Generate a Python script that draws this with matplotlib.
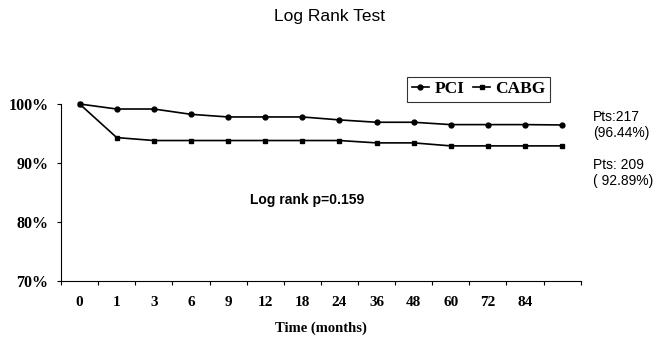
import matplotlib.pyplot as plt
from matplotlib.ticker import FixedLocator

# Kaplan-Meier style survival (%) by follow-up month
months = ['0', '1', '3', '6', '9', '12', '18', '24', '36', '48', '60', '72', '84', '']
pci = [100, 99.15, 99.15, 98.25, 97.8, 97.8, 97.8, 97.3, 96.9, 96.9, 96.5, 96.5, 96.5, 96.44]
cabg = [100, 94.3, 93.8, 93.8, 93.8, 93.8, 93.8, 93.8, 93.4, 93.4, 92.89, 92.89, 92.89, 92.89]
y_ticks = [70, 80, 90, 100]

serif = 'Liberation Serif'
sans = 'Liberation Sans'

fig = plt.figure(figsize=(6.67, 3.37), dpi=100)
ax = fig.add_axes([0.0915, 0.167, 0.7791, 0.5244])

x = list(range(len(months)))
ax.plot(x, pci, color='black', lw=1.2, marker='o', ms=3.5, label='PCI', clip_on=False)
ax.plot(x, cabg, color='black', lw=1.2, marker='s', ms=3.5, label='CABG', clip_on=False)

ax.set_xlim(-0.5, len(months) - 0.5)
ax.set_ylim(70, 100)

# labels at category centres, tick marks at category boundaries
ax.set_xticks(x)
ax.set_xticklabels(months, fontfamily=serif, fontweight='bold', fontsize=11)
ax.xaxis.set_minor_locator(FixedLocator([i - 0.5 for i in range(len(months) + 1)]))
ax.tick_params(axis='x', which='major', length=0, pad=11)
ax.tick_params(axis='x', which='minor', length=3, width=0.8, direction='out')

ax.set_yticks(y_ticks)
ax.set_yticklabels([f'{v}%' for v in y_ticks], fontfamily=serif, fontweight='bold', fontsize=11.5)
ax.tick_params(axis='y', length=3, width=0.8, pad=6)

for s in ['top', 'right']:
    ax.spines[s].set_visible(False)
for s in ['left', 'bottom']:
    ax.spines[s].set_linewidth(0.8)

ax.set_xlabel('Time (months)', fontfamily=serif, fontweight='bold', fontsize=10.5, labelpad=9)

leg = ax.legend(loc='upper right', bbox_to_anchor=(550 / 667, 1 - 77 / 337),
                bbox_transform=fig.transFigure, ncol=2, frameon=True, fancybox=False,
                handlelength=1.0, handletextpad=0.3, columnspacing=0.5, borderpad=0.25,
                borderaxespad=0, prop={'family': serif, 'weight': 'bold', 'size': 12.5})
leg.get_frame().set_edgecolor('black')
leg.get_frame().set_linewidth(0.8)

fig.text(0.494, 1 - 17 / 337, 'Log Rank Test', ha='center', va='center',
         fontfamily=sans, fontsize=12.5)
fig.text(250 / 667, 1 - 200 / 337, 'Log rank p=0.159', ha='left', va='center',
         fontfamily=sans, fontweight='bold', fontsize=10)
fig.text(593 / 667, 1 - 125 / 337, 'Pts:217\n(96.44%)', ha='left', va='center',
         fontfamily=sans, fontsize=10, linespacing=1.1)
fig.text(593 / 667, 1 - 173 / 337, 'Pts: 209\n( 92.89%)', ha='left', va='center',
         fontfamily=sans, fontsize=10, linespacing=1.1)

fig.savefig('out.png', dpi=100)
